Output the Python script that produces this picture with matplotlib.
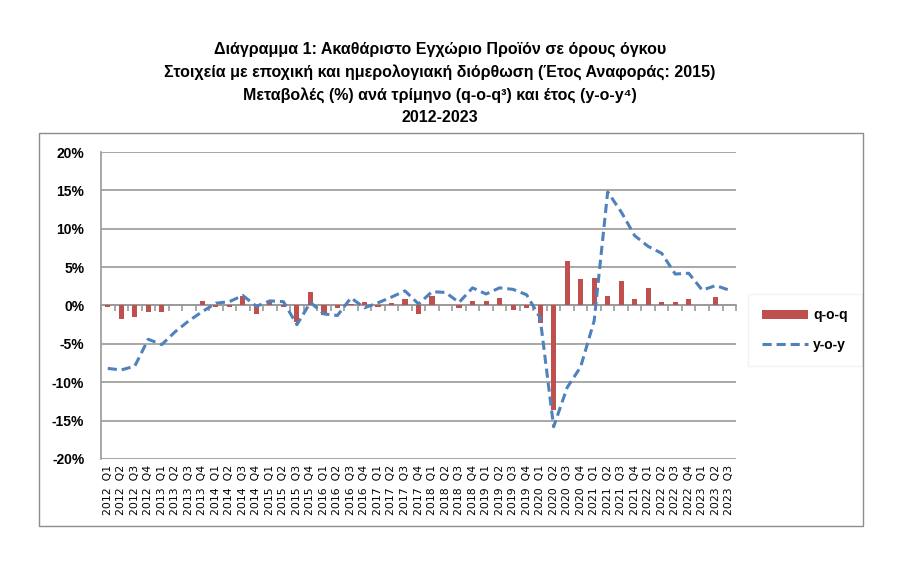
import numpy as np
import matplotlib.pyplot as plt
from matplotlib.patches import Rectangle

plt.rcParams['font.family'] = ['Liberation Sans', 'DejaVu Sans']

# τρίμηνα 2012 Q1 - 2023 Q3
years = list(range(2012, 2024))
quarters = [f'{y}  Q{q}' for y in years for q in range(1, 5)][:47]

# μεταβολή ως προς το προηγούμενο τρίμηνο (%)
qoq = [-0.2, -1.8, -1.5, -0.9, -0.9, 0.1, 0.1, 0.6,
       -0.2, -0.2, 1.3, -1.1, 0.5, -0.2, -2.1, 1.8,
       -1.2, -0.3, 0.2, 0.5, -0.2, 0.3, 0.8, -1.1,
       1.3, 0.1, -0.3, 0.6, 0.6, 1.0, -0.6, -0.3,
       -2.3, -13.6, 5.8, 3.4, 3.6, 1.3, 3.2, 0.8,
       2.3, 0.4, 0.4, 0.9, 0.05, 1.1, 0.05]

# μεταβολή ως προς το αντίστοιχο τρίμηνο του προηγούμενου έτους (%)
yoy = [-8.2, -8.4, -7.9, -4.4, -5.1, -3.4, -2.0, -0.8,
       0.3, 0.5, 1.3, -0.1, 0.6, 0.5, -2.5, 0.4,
       -1.1, -1.3, 1.0, -0.3, 0.35, 1.1, 1.9, 0.2,
       1.8, 1.7, 0.4, 2.3, 1.5, 2.3, 2.1, 1.4,
       -1.6, -15.8, -10.7, -8.0, -2.0, 14.8, 12.2, 9.1,
       7.7, 6.8, 4.1, 4.2, 2.0, 2.6, 2.0]

RED = '#C0504D'
BLUE = '#4F81BD'
GRID = '#9a9a9a'

fig = plt.figure(figsize=(9.01, 5.73), dpi=100)

# εξωτερικό πλαίσιο γραφήματος
fig.patches.append(Rectangle((0.0433, 0.082), 0.9145, 0.686, transform=fig.transFigure,
                             fill=False, edgecolor='#8c8c8c', linewidth=1.0))

ax = fig.add_axes([0.1121, 0.1990, 0.7048, 0.5357])
x = np.arange(len(quarters))

bars = ax.bar(x, qoq, width=0.38, color=RED, label='q-o-q', zorder=3)
line, = ax.plot(x, yoy, color=BLUE, linewidth=2.2, linestyle=(0, (3, 1.6)), label='y-o-y', zorder=4)

ax.set_xlim(-0.5, len(quarters) - 0.5)
ax.set_ylim(-20, 20)
ax.set_yticks(np.arange(-20, 21, 5))
ax.set_yticklabels([f'{v}%' for v in range(-20, 21, 5)], fontsize=10, fontweight='bold')
ax.yaxis.grid(True, color=GRID, linewidth=1.2)
ax.set_axisbelow(True)
ax.tick_params(axis='y', length=0, pad=12)

ax.set_xticks(x)
ax.set_xticklabels(quarters, rotation=90, fontsize=7.8, family='DejaVu Sans')
ax.tick_params(axis='x', length=0, pad=4)

for s in ['top', 'right', 'bottom']:
    ax.spines[s].set_visible(False)
ax.spines['left'].set_color(GRID)
ax.spines['left'].set_linewidth(1.2)

# άξονας στο μηδέν με υποδιαιρέσεις
zero_ax = ax.secondary_xaxis(0.5)
zero_ax.set_xticks(np.arange(-0.5, len(quarters), 1.0))
zero_ax.set_xticklabels([])
zero_ax.tick_params(direction='in', length=4, color=GRID, width=1.2)
zero_ax.spines['bottom'].set_color(GRID)
zero_ax.spines['bottom'].set_linewidth(1.2)
zero_ax.spines['top'].set_color(GRID)
zero_ax.spines['top'].set_linewidth(1.2)

title = ('Διάγραμμα 1: Ακαθάριστο Εγχώριο Προϊόν σε όρους όγκου\n'
         'Στοιχεία με εποχική και ημερολογιακή διόρθωση (Έτος Αναφοράς: 2015)\n'
         'Μεταβολές (%) ανά τρίμηνο (q-o-q³) και έτος (y-o-y⁴)\n'
         '2012-2023')
fig.text(0.488, 0.928, title, ha='center', va='top', fontsize=11.5, fontweight='bold',
         linespacing=1.58)

leg = ax.legend([bars, line], ['q-o-q', 'y-o-y'], loc='center left',
                bbox_to_anchor=(1.008, 0.42), frameon=True,
                prop={'weight': 'bold', 'size': 10}, handlelength=3.3, handleheight=0.6,
                labelspacing=1.15, borderpad=1.0, handletextpad=0.4, fancybox=False)
leg.get_frame().set_edgecolor('#f0f0f0')
leg.get_frame().set_linewidth(1.0)

fig.savefig('out.png', dpi=100)
